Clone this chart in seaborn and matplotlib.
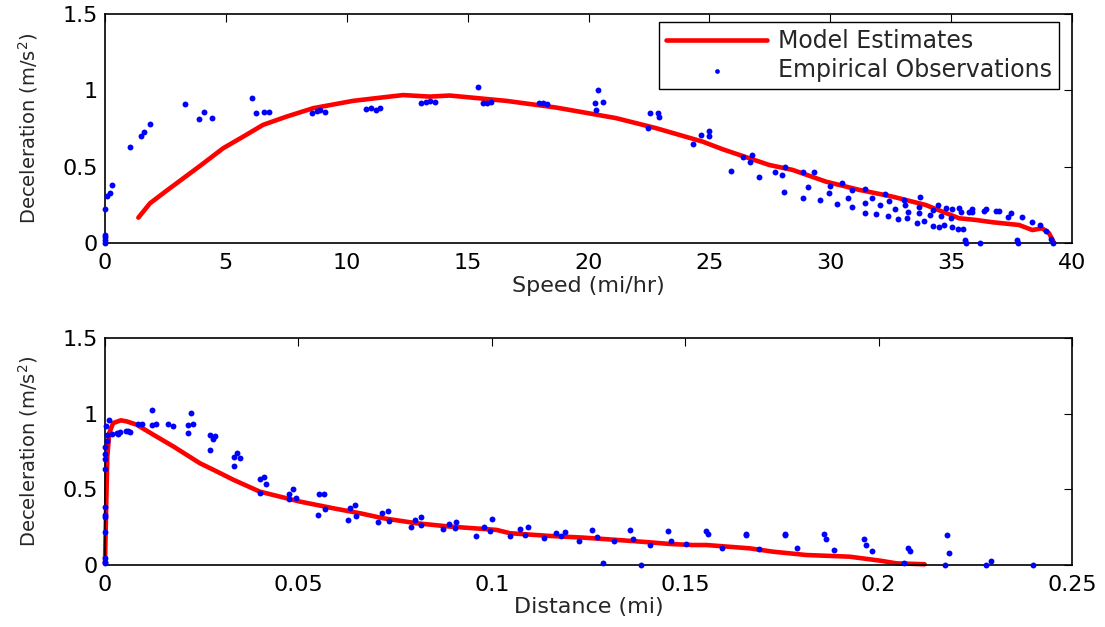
import numpy as np
import pandas as pd
import matplotlib
matplotlib.use("Agg")
import matplotlib.pyplot as plt
import seaborn as sns

# ---- top panel: deceleration vs speed ----
speed_model = [1.38, 1.86, 2.55, 3.24, 3.93, 4.89, 5.72, 6.54, 7.51, 8.61, 10.26, 11.23, 12.33,
               13.43, 14.26, 16.6, 18.67, 21.14, 22.80, 24.72, 25.55, 27.48, 28.44, 29.82, 31.2,
               32.57, 33.95, 35.33, 36.02, 36.71, 37.81, 38.36, 38.77, 39.05, 39.26]
decel_model_speed = [0.166, 0.26, 0.343, 0.424, 0.505, 0.621, 0.697, 0.774, 0.828, 0.883, 0.931,
                     0.949, 0.969, 0.959, 0.966, 0.931, 0.887, 0.818, 0.752, 0.664, 0.614, 0.511,
                     0.479, 0.402, 0.348, 0.304, 0.249, 0.162, 0.151, 0.136, 0.118, 0.085, 0.096,
                     0.064, 0.0]

speed_obs = [0.0, 0.0, 0.0, 0.0, 0.0, 0.07, 0.21, 0.28, 1.03, 1.50, 1.60, 1.85,
             3.31, 3.87, 4.09, 4.43, 6.10, 6.23, 6.58, 6.79, 8.57, 8.75, 8.91, 9.12,
             10.79, 11.02, 11.20, 11.36, 13.09, 13.29, 13.46, 13.64, 15.43, 15.63, 15.81, 15.98,
             17.95, 18.11, 18.29, 20.26, 20.41, 20.59, 20.32, 22.55, 22.88, 22.90, 22.47,
             24.31, 24.66, 24.97, 24.99, 25.90, 26.38, 26.75, 26.69, 27.04,
             27.73, 27.99, 28.14, 28.07, 28.86, 29.34, 29.06, 28.87, 29.59, 29.99, 29.95,
             30.28, 30.47, 30.72, 30.90, 30.90, 31.42, 31.45, 31.45, 31.72, 31.91, 32.07,
             32.27, 32.38, 32.44, 32.66, 32.80, 33.05, 33.10, 33.18, 33.21, 33.57, 33.68,
             33.68, 33.72, 33.88, 34.13, 34.26, 34.23, 34.46, 34.50, 34.57, 34.72, 34.78,
             34.99, 35.03, 35.05, 35.28, 35.33, 35.41, 35.50, 35.58, 35.61, 35.72, 35.85,
             35.88, 36.20, 36.36, 36.43, 36.85, 36.96, 37.34, 37.47, 37.74, 37.78, 37.93,
             38.33, 38.67, 38.94, 39.14, 39.22]
decel_obs_speed = [0.0, 0.02, 0.04, 0.05, 0.22, 0.31, 0.33, 0.38, 0.63, 0.70, 0.73, 0.78,
                   0.91, 0.81, 0.86, 0.82, 0.95, 0.85, 0.857, 0.857, 0.854, 0.866, 0.872, 0.859,
                   0.879, 0.885, 0.868, 0.883, 0.92, 0.925, 0.929, 0.923, 1.02, 0.916, 0.916, 0.923,
                   0.918, 0.916, 0.913, 0.918, 0.999, 0.925, 0.868, 0.85, 0.85, 0.828, 0.754,
                   0.647, 0.706, 0.732, 0.704, 0.474, 0.562, 0.579, 0.531, 0.435,
                   0.466, 0.444, 0.496, 0.332, 0.468, 0.463, 0.369, 0.295, 0.284, 0.376, 0.326,
                   0.254, 0.395, 0.295, 0.345, 0.238, 0.356, 0.264, 0.197, 0.297, 0.19, 0.249,
                   0.321, 0.177, 0.275, 0.223, 0.159, 0.284, 0.251, 0.162, 0.203, 0.133, 0.238,
                   0.195, 0.304, 0.144, 0.186, 0.214, 0.113, 0.249, 0.107, 0.179, 0.116, 0.23,
                   0.166, 0.103, 0.221, 0.094, 0.23, 0.205, 0.094, 0.02, 0.0, 0.203, 0.223,
                   0.201, 0.0, 0.21, 0.225, 0.208, 0.21, 0.172, 0.199, 0.02, 0.0, 0.172,
                   0.138, 0.116, 0.079, 0.028, 0.0]

# ---- bottom panel: deceleration vs distance ----
dist_model = [0.0, 0.0003, 0.0006, 0.0011, 0.0021, 0.0041, 0.0056, 0.0082, 0.0125, 0.0177,
              0.0211, 0.0245, 0.0289, 0.0332, 0.04, 0.0504, 0.059, 0.0659, 0.0719, 0.0805,
              0.0891, 0.0952, 0.1012, 0.1047, 0.115, 0.1236, 0.1322, 0.1408, 0.146, 0.152,
              0.1555, 0.1667, 0.1727, 0.1813, 0.1925, 0.2003, 0.2046, 0.2119]
decel_model_dist = [0.01, 0.386, 0.717, 0.872, 0.938, 0.956, 0.949, 0.927, 0.861, 0.783,
                    0.728, 0.673, 0.618, 0.563, 0.485, 0.419, 0.375, 0.342, 0.309, 0.276,
                    0.254, 0.243, 0.232, 0.21, 0.192, 0.181, 0.166, 0.15, 0.139, 0.132,
                    0.132, 0.11, 0.088, 0.066, 0.055, 0.029, 0.011, 0.005]

dist_obs = [0.0, 0.0, 0.0, 0.0, 0.0, 0.0, 0.0, 0.0, 0.0, 0.0, 0.0,
            0.0004, 0.0006, 0.0003, 0.0011, 0.0017, 0.003, 0.0034, 0.0039, 0.0054, 0.0065, 0.006,
            0.0086, 0.0095, 0.0121, 0.0132, 0.0122, 0.0164, 0.0175, 0.0215, 0.0228, 0.0222, 0.0215,
            0.0271, 0.0284, 0.028, 0.0272, 0.0333, 0.0342, 0.0349, 0.0334,
            0.0402, 0.0412, 0.0417, 0.0402, 0.0475, 0.0487, 0.0493, 0.0475,
            0.0552, 0.0565, 0.0569, 0.055, 0.0633, 0.0647, 0.065, 0.0627,
            0.0707, 0.0716, 0.0731, 0.0733, 0.079, 0.0802, 0.0818, 0.0818,
            0.0874, 0.089, 0.0908, 0.0905, 0.0959, 0.098, 0.0995, 0.1,
            0.1047, 0.1072, 0.1086, 0.1094, 0.1136, 0.1165, 0.1178, 0.1189,
            0.1226, 0.126, 0.1271, 0.1287, 0.1316, 0.1357, 0.1366, 0.1385, 0.1409,
            0.1456, 0.1463, 0.1503, 0.1554, 0.156, 0.1596, 0.1656, 0.1658,
            0.1692, 0.1759, 0.1759, 0.1788, 0.1859, 0.1863, 0.1885, 0.1961, 0.1968, 0.1982,
            0.2065, 0.2075, 0.208, 0.2171, 0.2178, 0.2183, 0.2278, 0.2291, 0.24]
decel_obs_dist = [0.044, 0.022, 0.011, 0.218, 0.32, 0.33, 0.38, 0.634, 0.70, 0.735, 0.78,
                  0.817, 0.861, 0.916, 0.956, 0.866, 0.872, 0.866, 0.876, 0.887, 0.876, 0.885,
                  0.932, 0.932, 0.923, 0.929, 1.026, 0.929, 0.921, 0.925, 0.932, 1.007, 0.874,
                  0.856, 0.854, 0.834, 0.76, 0.713, 0.737, 0.707, 0.654,
                  0.565, 0.583, 0.532, 0.477, 0.468, 0.501, 0.446, 0.437,
                  0.468, 0.466, 0.373, 0.331, 0.377, 0.397, 0.327, 0.298,
                  0.285, 0.342, 0.356, 0.293, 0.254, 0.298, 0.32, 0.265,
                  0.236, 0.274, 0.285, 0.247, 0.194, 0.25, 0.223, 0.305,
                  0.19, 0.238, 0.201, 0.25, 0.177, 0.212, 0.192, 0.219,
                  0.159, 0.23, 0.183, 0.011, 0.159, 0.23, 0.174, 0.0, 0.13,
                  0.223, 0.161, 0.141, 0.225, 0.203, 0.11, 0.207, 0.197,
                  0.104, 0.205, 0.197, 0.115, 0.207, 0.174, 0.101, 0.172, 0.134, 0.091,
                  0.011, 0.113, 0.091, 0.0, 0.201, 0.079, 0.0, 0.026, 0.0]

sns.set_theme(style="white")
plt.rcParams['font.family'] = ['DejaVu Sans']
plt.rcParams.update({
    'xtick.direction': 'in', 'ytick.direction': 'in',
    'xtick.top': True, 'ytick.right': True,
    'xtick.major.size': 6, 'ytick.major.size': 6,
    'xtick.major.width': 0.8, 'ytick.major.width': 0.8,
    'xtick.color': 'black', 'ytick.color': 'black',
    'axes.edgecolor': 'black', 'axes.linewidth': 1.2,
})

W, H = 1105, 627
fig = plt.figure(figsize=(W / 100, H / 100), dpi=100)
ax1 = fig.add_axes([105 / W, 1 - 243 / H, 967 / W, 229 / H])
ax2 = fig.add_axes([105 / W, 1 - 565 / H, 967 / W, 227 / H])

red = '#ff0000'
blue = '#0000ff'

sns.lineplot(x=speed_model, y=decel_model_speed, ax=ax1, color=red, lw=3.3,
             sort=False, estimator=None, label='Model Estimates', clip_on=False)
sns.scatterplot(x=speed_obs, y=decel_obs_speed, ax=ax1, color=blue, s=18,
                linewidth=0, label='Empirical Observations', clip_on=False, zorder=3)

sns.lineplot(x=dist_model, y=decel_model_dist, ax=ax2, color=red, lw=3.3,
             sort=False, estimator=None, legend=False, clip_on=False)
sns.scatterplot(x=dist_obs, y=decel_obs_dist, ax=ax2, color=blue, s=18,
                linewidth=0, legend=False, clip_on=False, zorder=3)

fmt = plt.FuncFormatter(lambda v, _: f'{v:g}')
for ax, xmax, step, xlabel in [(ax1, 40, 5, 'Speed (mi/hr)'),
                                (ax2, 0.25, 0.05, 'Distance (mi)')]:
    ax.set_xlim(0, xmax)
    ax.set_ylim(0, 1.5)
    ax.set_xticks(np.arange(0, xmax + step / 2, step))
    ax.set_yticks([0, 0.5, 1, 1.5])
    ax.xaxis.set_major_formatter(fmt)
    ax.yaxis.set_major_formatter(fmt)
    ax.tick_params(labelsize=16)
    ax.tick_params(axis='x', pad=7)
    ax.tick_params(axis='y', pad=5)
    ax.set_xlabel(xlabel, fontsize=16, labelpad=2)
    ax.set_ylabel('Deceleration (m/s$^2$)', fontsize=14, labelpad=16)
    for sp in ax.spines.values():
        sp.set_visible(True)

leg = ax1.legend(loc='upper right', bbox_to_anchor=(1059 / W, 1 - 22 / H),
                 bbox_transform=fig.transFigure, borderaxespad=0, fontsize=17,
                 frameon=True, fancybox=False, edgecolor='black', framealpha=1,
                 handlelength=4.3, handletextpad=0.45, labelspacing=0.22,
                 borderpad=0.3, markerscale=0.8)
leg.get_frame().set_linewidth(1.0)

fig.savefig('out.png', dpi=100)
